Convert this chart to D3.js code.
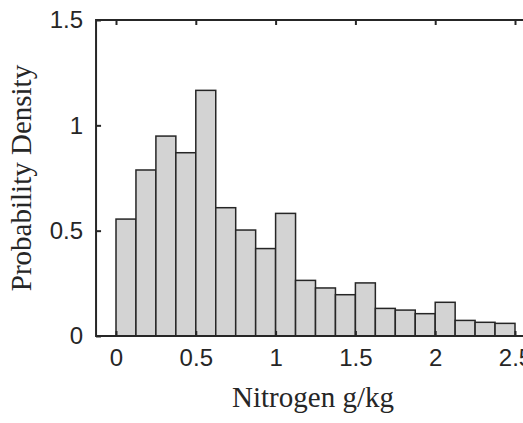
<!DOCTYPE html>
<html>
<head>
<meta charset="utf-8">
<script src="https://cdn.jsdelivr.net/npm/d3@7"></script>
<style>
  body { margin: 0; background: #fff; }
  svg { display: block; }
</style>
</head>
<body>
<div class="chart"></div>
<script>
// bin edges (left edges), bin width 0.125
const binStarts = [0, 0.125, 0.25, 0.375, 0.5, 0.625, 0.75, 0.875, 1, 1.125,
                   1.25, 1.375, 1.5, 1.625, 1.75, 1.875, 2, 2.125, 2.25, 2.375]
const binWidth = 0.125
const density = [0.555, 0.788, 0.949, 0.870, 1.166, 0.609, 0.503, 0.415, 0.582, 0.264,
                 0.228, 0.196, 0.252, 0.131, 0.123, 0.106, 0.160, 0.074, 0.065, 0.060]
const xTicks = [0, 0.5, 1, 1.5, 2, 2.5]
const xTickLabels = ["0", "0.5", "1", "1.5", "2", "2.5"]
const yTicks = [0, 0.5, 1, 1.5]
const yTickLabels = ["0", "0.5", "1", "1.5"]

const W = 523, H = 423
const ink = "#262626"

const svg = d3.select(".chart").append("svg")
    .attr("width", W).attr("height", H)

const x = d3.scaleLinear().domain([0, 2.5]).range([116, 515])
const y = d3.scaleLinear().domain([0, 1.5]).range([336, 20])

const boxL = x(-0.125), boxR = x(2.625), boxT = y(1.5), boxB = y(0)

// bars
svg.append("g").selectAll("rect")
    .data(density)
    .enter()
    .append("rect")
    .attr("x", (d, i) => x(binStarts[i]))
    .attr("y", d => y(d))
    .attr("width", (d, i) => x(binStarts[i] + binWidth) - x(binStarts[i]))
    .attr("height", d => y(0) - y(d))
    .attr("fill", "#d3d3d3")
    .attr("stroke", ink)
    .attr("stroke-width", 1.5)

// bottom axis, ticks pointing inward
const xAxis = d3.axisBottom(x).tickValues(xTicks)
    .tickFormat((d, i) => xTickLabels[i]).tickSize(-5).tickPadding(13)
const gx = svg.append("g").attr("transform", `translate(0,${boxB})`).call(xAxis)
gx.select(".domain").remove()

// top ticks
const gt = svg.append("g").attr("transform", `translate(0,${boxT})`)
    .call(d3.axisTop(x).tickValues(xTicks).tickSize(-5).tickFormat(""))
gt.select(".domain").remove()

// left axis
const yAxis = d3.axisLeft(y).tickValues(yTicks)
    .tickFormat((d, i) => yTickLabels[i]).tickSize(-5).tickPadding(13)
const gy = svg.append("g").attr("transform", `translate(${boxL},0)`).call(yAxis)
gy.select(".domain").remove()

svg.selectAll(".tick line").attr("stroke", ink).attr("stroke-width", 2)
svg.selectAll(".tick text")
    .attr("fill", ink)
    .style("font-family", "'Liberation Sans', Arial, sans-serif")
    .style("font-size", "24px")

// box lines
svg.append("path")
    .attr("d", `M${boxR},${boxT}H${boxL}V${boxB}H${boxR}`)
    .attr("fill", "none").attr("stroke", ink).attr("stroke-width", 2)

// titles
svg.append("text")
    .attr("x", 313).attr("y", 407)
    .attr("text-anchor", "middle")
    .attr("fill", ink)
    .style("font-family", "'Liberation Serif', 'Times New Roman', serif")
    .style("font-size", "29px")
    .text("Nitrogen g/kg")

svg.append("text")
    .attr("transform", "translate(31,178) rotate(-90)")
    .attr("text-anchor", "middle")
    .attr("fill", ink)
    .style("font-family", "'Liberation Serif', 'Times New Roman', serif")
    .style("font-size", "29px")
    .text("Probability Density")
</script>
</body>
</html>
